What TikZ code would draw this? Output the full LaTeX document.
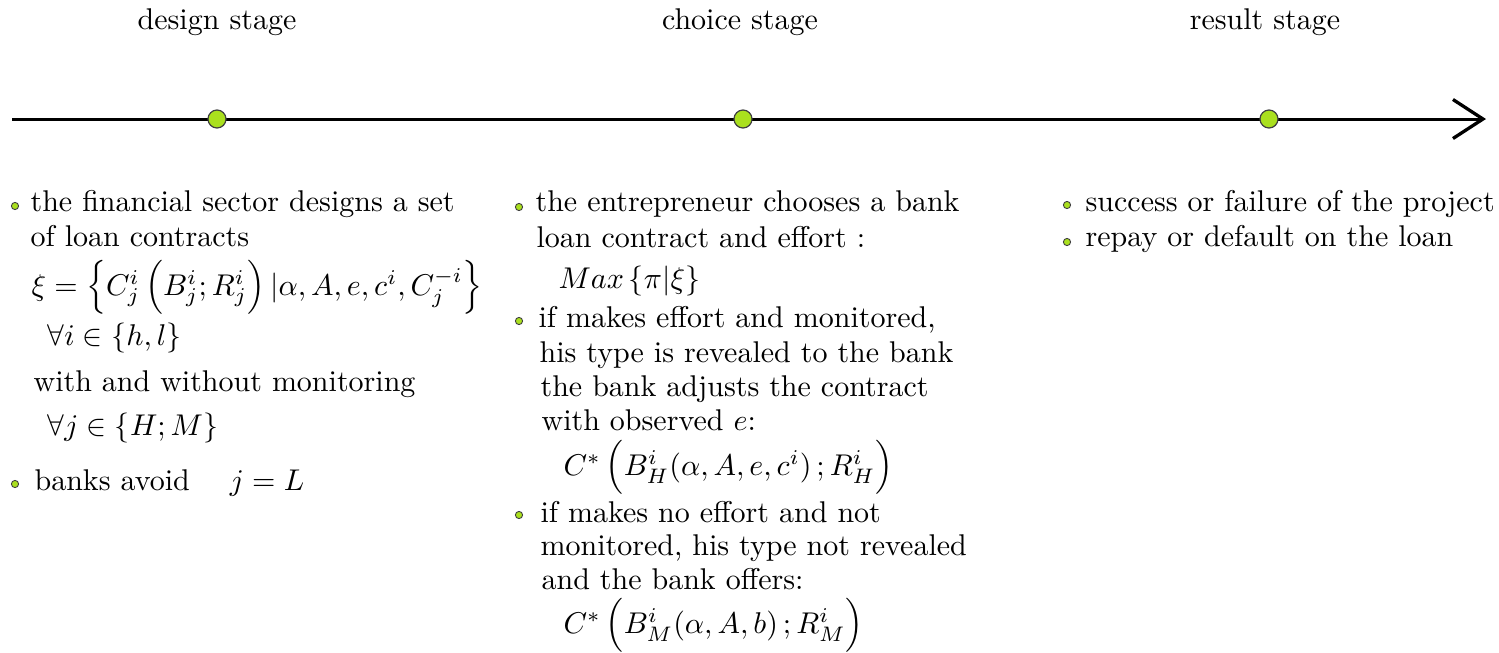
\documentclass[tikz,border=0pt]{standalone}
\usepackage{amsmath}
\usepackage{amssymb}
\usetikzlibrary{arrows.meta}

\definecolor{lime}{RGB}{170,224,30}

\tikzset{
  stagedot/.style={circle, draw=black!75, line width=.4pt, fill=lime, inner sep=0pt, minimum size=6pt},
  itemdot/.style={circle, draw=black!75, line width=.3pt, fill=lime, inner sep=0pt, minimum size=2.4pt},
  line/.style={anchor=base west, inner sep=0pt},
  stagelabel/.style={anchor=base, inner sep=0pt}
}

\begin{document}
\begin{tikzpicture}[x=0.3333pt, y=-0.3333pt]

        \useasboundingbox (0,0) rectangle (1499,652) ;

        % time axis
        \coordinate (start) at (12,119) ;
        \coordinate (end) at (1486,119) ;
        \draw [line width=1pt, -{Straight Barb[length=10pt, width=13pt, line width=1.1pt]}] (start) to (end) ;

        \node [stagedot] (design) at (217,119) {} ;
        \node [stagedot] (choice) at (743,119) {} ;
        \node [stagedot] (result) at (1269,119) {} ;

        \node [stagelabel] (designlbl) at (217,29) {design stage} ;
        \node [stagelabel] (choicelbl) at (740,29) {choice stage} ;
        \node [stagelabel] (resultlbl) at (1265,29) {result stage} ;

        % design stage
        \node [itemdot] (bd1) at (15,206) {} ;
        \node [line] (d1) at (30,211) {the financial sector designs a set} ;
        \node [line] (d2) at (30,246) {of loan contracts} ;
        \node [line] (d3) at (31,295) {$\xi=\Bigl\{C^{i}_{j}\,\Bigl(B^{i}_{j};R^{i}_{j}\Bigr)\,|\alpha,A,e,c^{i},C^{-i}_{j}\Bigr\}$} ;
        \node [line] (d4) at (47,345) {$\forall i\in\left\{h,l\right\}$} ;
        \node [line] (d5) at (33,391) {with and without monitoring} ;
        \node [line] (d6) at (47,435) {$\forall j\in\left\{H;M\right\}$} ;
        \node [itemdot] (bd2) at (15,484) {} ;
        \node [line] (d7) at (34,490) {banks avoid \quad $j=L$} ;

        % choice stage
        \node [itemdot] (bc1) at (519,207) {} ;
        \node [line] (c1) at (535,211) {the entrepreneur chooses a bank} ;
        \node [line] (c2) at (536,247) {loan contract and effort :} ;
        \node [line] (c3) at (558,288) {$Max\left\{\pi|\xi\right\}$} ;
        \node [itemdot] (bc2) at (519,321) {} ;
        \node [line] (c4) at (538,327) {if makes effort and monitored,} ;
        \node [line] (c5) at (539,362) {his type is revealed to the bank} ;
        \node [line] (c6) at (540,396) {the bank adjusts the contract} ;
        \node [line] (c7) at (541,430) {with observed $e$:} ;
        \node [line] (c8) at (563,475) {$C^{*}\,\Bigl(B^{i}_{H}(\alpha,A,e,c^{i})\,;R^{i}_{H}\Bigr)$} ;
        \node [itemdot] (bc3) at (519,515) {} ;
        \node [line] (c9) at (540,522) {if makes no effort and not} ;
        \node [line] (c10) at (540,555) {monitored, his type not revealed} ;
        \node [line] (c11) at (541,589) {and the bank offers:} ;
        \node [line] (c12) at (563,633) {$C^{*}\,\Bigl(B^{i}_{M}(\alpha,A,b)\,;R^{i}_{M}\Bigr)$} ;

        % result stage
        \node [itemdot] (br1) at (1067,205) {} ;
        \node [line] (r1) at (1085,211) {success or failure of the project} ;
        \node [itemdot] (br2) at (1067,242) {} ;
        \node [line] (r2) at (1085,246) {repay or default on the loan} ;

\end{tikzpicture}
\end{document}
